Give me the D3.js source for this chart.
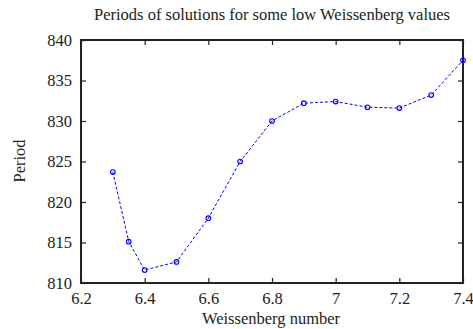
<!DOCTYPE html>
<meta charset="utf-8">
<html>
  <head>
    <script src="https://d3js.org/d3.v7.min.js"></script>
    <style>
      body { margin: 0; background: #fff; }
      text { font-family: "Liberation Serif", "DejaVu Serif", serif; fill: #222; }
    </style>
  </head>
  <body>
    <svg id="chart" width="473" height="329"></svg>
    <script>
    // Weissenberg number vs period
    const wiValues = [6.3, 6.35, 6.4, 6.5, 6.6, 6.7, 6.8, 6.9, 7.0, 7.1, 7.2, 7.3, 7.4];
    const periods = [823.7, 815.1, 811.6, 812.6, 818.0, 825.0, 830.0, 832.2, 832.4, 831.7, 831.6, 833.2, 837.5];
    const xTicks = [6.2, 6.4, 6.6, 6.8, 7, 7.2, 7.4];
    const yTicks = [810, 815, 820, 825, 830, 835, 840];

    var plotL = 81, plotR = 463, plotT = 40, plotB = 283;
    var svg = d3.select("#chart");

    var x = d3.scaleLinear().domain([6.2, 7.4]).range([plotL, plotR]);
    var y = d3.scaleLinear().domain([810, 840]).range([plotB, plotT]);

    var data = wiValues.map(function(d, i) { return {wi: d, p: periods[i]}; });

    // frame + inward ticks
    function axis(gen, tx, ty) {
        var g = svg.append("g").attr("transform", "translate(" + tx + "," + ty + ")").call(gen);
        g.select(".domain").remove();
        g.selectAll("line").attr("stroke", "#222").attr("stroke-width", 1.2);
        g.selectAll("text").style("font-size", "16.5px").attr("fill", "#222");
        return g;
    }
    axis(d3.axisBottom(x).tickValues(xTicks).tickSizeInner(-5).tickPadding(9).tickFormat(d3.format("")), 0, plotB);
    axis(d3.axisTop(x).tickValues(xTicks).tickSizeInner(-5).tickFormat(""), 0, plotT);
    axis(d3.axisLeft(y).tickValues(yTicks).tickSizeInner(-5).tickPadding(9), plotL, 0);
    axis(d3.axisRight(y).tickValues(yTicks).tickSizeInner(-5).tickFormat(""), plotR, 0);

    svg.append("rect")
        .attr("x", plotL).attr("y", plotT)
        .attr("width", plotR - plotL).attr("height", plotB - plotT)
        .attr("fill", "none").attr("stroke", "#222").attr("stroke-width", 2);

    var line = d3.line().x(function(d) { return x(d.wi); }).y(function(d) { return y(d.p); });

    svg.append("path")
        .datum(data)
        .attr("d", line)
        .attr("fill", "none")
        .attr("stroke", "#0000ff")
        .attr("stroke-width", 1)
        .attr("stroke-dasharray", "3,2");

    svg.selectAll("circle.pt")
        .data(data)
        .enter()
        .append("circle")
        .attr("class", "pt")
        .attr("cx", function(d) { return x(d.wi); })
        .attr("cy", function(d) { return y(d.p); })
        .attr("r", 2.3)
        .attr("fill", "none")
        .attr("stroke", "#0000ff")
        .attr("stroke-width", 1.1);

    // title and labels
    svg.append("text")
        .attr("x", 272).attr("y", 20)
        .attr("text-anchor", "middle")
        .style("font-size", "16.5px")
        .text("Periods of solutions for some low Weissenberg values");

    svg.append("text")
        .attr("x", 271).attr("y", 324)
        .attr("text-anchor", "middle")
        .style("font-size", "16.5px")
        .text("Weissenberg number");

    svg.append("text")
        .attr("transform", "translate(25,161)rotate(-90)")
        .attr("text-anchor", "middle")
        .style("font-size", "16.5px")
        .text("Period");
    </script>
  </body>
</html>
